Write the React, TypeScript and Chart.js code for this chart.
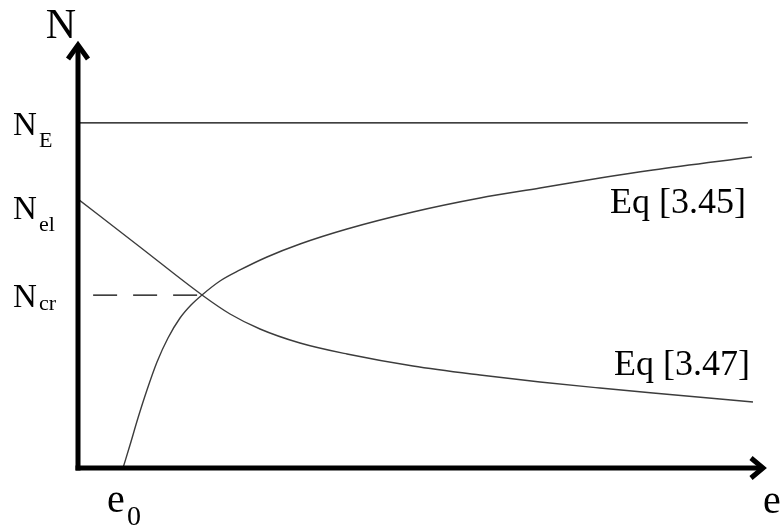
import React, { useEffect, useRef } from "react";
import { Chart, registerables } from "chart.js";

Chart.register(...registerables);

// Load level (N) vs. eccentricity (e), schematic units 0..100 on both axes.
const N_E = 81.2;
const N_EL = 63.3;
const N_CR = 40.7;
const E0 = 6.55;
const E_CROSS = 18.05;

// Eq [3.45]: rising branch starting at e0
const eq345X = [6.55, 7.57, 8.73, 10.04, 11.5, 13.1, 14.85, 16.45, 18.05, 20.67, 23.58, 27.51, 32.31, 39.16, 48.76, 58.52, 67.25, 75.98, 83.7, 98.11];
const eq345Y = [0, 5.41, 11.76, 18.35, 24.94, 30.59, 35.29, 38.35, 40.71, 44.0, 46.59, 49.65, 52.71, 56.24, 60.24, 63.53, 65.88, 68.24, 70.12, 73.18];

// Eq [3.47]: falling branch starting at N_el
const eq347X = [0, 9.02, 18.05, 22.13, 26.49, 32.31, 39.16, 48.76, 58.52, 67.25, 75.98, 83.7, 98.25];
const eq347Y = [63.29, 52.0, 40.71, 36.24, 32.71, 29.41, 26.82, 24.0, 21.88, 20.24, 18.82, 17.65, 15.53];

const N_E_END = 97.5;
const DASH_START = 2.2;

// Labels on the N axis
const yLabelSubs = ["E", "el", "cr"];
const yLabelValues = [N_E, N_EL, N_CR];
const curveLabels = ["Eq [3.45]", "Eq [3.47]"];

const zip = (xs: number[], ys: number[]) => xs.map((x, i) => ({ x, y: ys[i] }));

const SERIF = '"Liberation Serif", "Times New Roman", serif';

const axesPlugin = {
  id: "axesArrows",
  afterDatasetsDraw(chart: any) {
    const { ctx, chartArea } = chart;
    const { left, right, top, bottom } = chartArea;
    ctx.save();
    ctx.strokeStyle = "#000";
    ctx.lineWidth = 5;
    ctx.lineCap = "butt";
    ctx.lineJoin = "miter";
    // vertical axis
    ctx.beginPath();
    ctx.moveTo(left, bottom + 2.5);
    ctx.lineTo(left, top + 2);
    ctx.stroke();
    ctx.beginPath();
    ctx.moveTo(left - 10, top + 16);
    ctx.lineTo(left, top + 2);
    ctx.lineTo(left + 10, top + 16);
    ctx.stroke();
    // horizontal axis
    ctx.beginPath();
    ctx.moveTo(left - 2.5, bottom);
    ctx.lineTo(right - 2, bottom);
    ctx.stroke();
    ctx.beginPath();
    ctx.moveTo(right - 14, bottom - 10);
    ctx.lineTo(right - 2, bottom);
    ctx.lineTo(right - 14, bottom + 10);
    ctx.stroke();
    ctx.restore();
  },
  afterDraw(chart: any) {
    const { ctx, chartArea, scales } = chart;
    const xs = scales.x;
    const ys = scales.y;
    const { left, right, top, bottom } = chartArea;
    ctx.save();
    ctx.fillStyle = "#000";
    ctx.textBaseline = "alphabetic";

    // axis titles
    ctx.font = `42px ${SERIF}`;
    ctx.textAlign = "center";
    ctx.fillText("N", left - 17, top - 5);
    ctx.font = `40px ${SERIF}`;
    ctx.textAlign = "left";
    ctx.fillText("e", right - 2, bottom + 45);

    // e0 tick label
    const ex = xs.getPixelForValue(E0);
    ctx.font = `40px ${SERIF}`;
    ctx.textAlign = "left";
    ctx.fillText("e", ex - 16, bottom + 44);
    ctx.font = `28px ${SERIF}`;
    ctx.fillText("0", ex + 4, bottom + 57);

    // N tick labels
    yLabelSubs.forEach((sub, i) => {
      const yp = ys.getPixelForValue(yLabelValues[i]) + (sub === "el" ? 8 : 0);
      ctx.font = `33px ${SERIF}`;
      ctx.textAlign = "left";
      ctx.fillText("N", 13, yp + 12);
      ctx.font = `22px ${SERIF}`;
      const subShift = sub === "cr" ? 15 : 24;
      ctx.fillText(sub, 39, yp + subShift);
    });

    // curve labels
    ctx.font = `36px ${SERIF}`;
    ctx.textAlign = "right";
    ctx.fillText(curveLabels[0], right - 19, ys.getPixelForValue(eq345Y[eq345Y.length - 1]) + 56);
    ctx.fillText(curveLabels[1], right - 15, ys.getPixelForValue(eq347Y[eq347Y.length - 1]) - 27);
    ctx.restore();
  },
};

export default function App() {
  const canvasRef = useRef<HTMLCanvasElement | null>(null);

  useEffect(() => {
    if (!canvasRef.current) return;
    const chart = new Chart(canvasRef.current, {
      type: "scatter",
      data: {
        datasets: [
          {
            label: "N_E",
            data: [
              { x: 0, y: N_E },
              { x: N_E_END, y: N_E },
            ],
            showLine: true,
            borderColor: "#000",
            borderWidth: 1.2,
            pointRadius: 0,
          },
          {
            label: "N_cr",
            data: [
              { x: DASH_START, y: N_CR },
              { x: E_CROSS, y: N_CR },
            ],
            showLine: true,
            borderColor: "#000",
            borderWidth: 1.2,
            borderDash: [24, 16],
            pointRadius: 0,
          },
          {
            label: "Eq [3.45]",
            data: zip(eq345X, eq345Y),
            showLine: true,
            borderColor: "#3c3c3c",
            borderWidth: 1.4,
            pointRadius: 0,
            cubicInterpolationMode: "monotone",
          },
          {
            label: "Eq [3.47]",
            data: zip(eq347X, eq347Y),
            showLine: true,
            borderColor: "#3c3c3c",
            borderWidth: 1.4,
            pointRadius: 0,
            cubicInterpolationMode: "monotone",
          },
        ],
      },
      options: {
        animation: false,
        responsive: false,
        devicePixelRatio: 1,
        layout: { padding: { left: 78, top: 43, right: 18, bottom: 60 } },
        plugins: {
          legend: { display: false },
          tooltip: { enabled: false },
        },
        scales: {
          x: { type: "linear", min: 0, max: 100, display: false },
          y: { type: "linear", min: 0, max: 100, display: false },
        },
      },
      plugins: [axesPlugin],
    });
    return () => chart.destroy();
  }, []);

  return (
    <div style={{ position: "fixed", left: 0, top: 0, width: 783, height: 528, background: "#fff" }}>
      <canvas ref={canvasRef} width={783} height={528} />
    </div>
  );
}
